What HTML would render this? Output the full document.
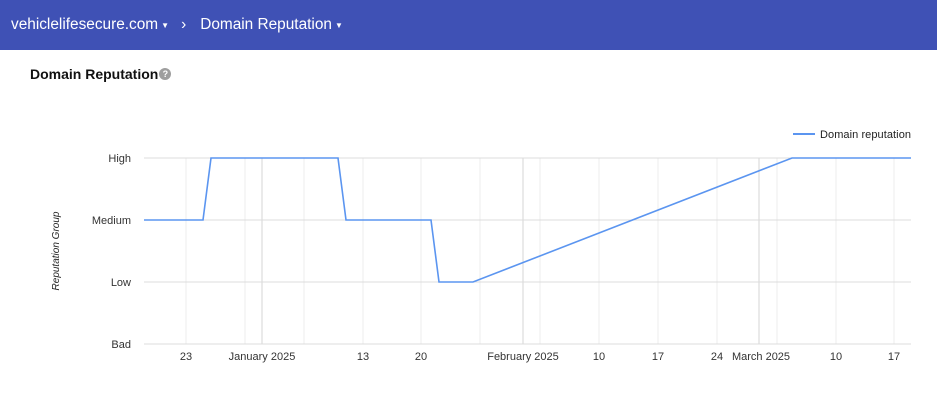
<!DOCTYPE html>
<html><head><meta charset="utf-8"><style>
body{margin:0;width:937px;height:403px;background:#fff;font-family:"Liberation Sans",Arial,sans-serif;overflow:hidden}
.bar{height:50px;background:#3f51b5;color:#fff;font-size:15.4px;display:flex;align-items:center;padding-left:11px}
.title{position:absolute;left:30px;top:66px;font-size:14px;font-weight:bold;color:#111}
.q{display:inline-block;width:12px;height:12px;border-radius:50%;background:#9e9e9e;color:#fff;font-size:9px;text-align:center;line-height:12px;vertical-align:2px;margin-left:1px}
</style></head><body>
<div class="bar"><span>vehiclelifesecure.com</span><span style="font-size:8px;margin-left:3px">▼</span><span style="margin-left:12px">›</span><span style="margin-left:14px">Domain Reputation</span><span style="font-size:8px;margin-left:3px">▼</span></div>
<div class="title">Domain Reputation<span class="q">?</span></div>
<svg width="937" height="403" style="position:absolute;left:0;top:0" font-family="Liberation Sans, Arial, sans-serif" font-size="11">
<g stroke="#ececec" stroke-width="1">
<line x1="186" y1="158" x2="186" y2="344"/><line x1="245" y1="158" x2="245" y2="344"/><line x1="304" y1="158" x2="304" y2="344"/><line x1="363" y1="158" x2="363" y2="344"/><line x1="421" y1="158" x2="421" y2="344"/><line x1="480" y1="158" x2="480" y2="344"/><line x1="540" y1="158" x2="540" y2="344"/><line x1="599" y1="158" x2="599" y2="344"/><line x1="658" y1="158" x2="658" y2="344"/><line x1="717" y1="158" x2="717" y2="344"/><line x1="777" y1="158" x2="777" y2="344"/><line x1="836" y1="158" x2="836" y2="344"/><line x1="894" y1="158" x2="894" y2="344"/>
</g>
<g stroke="#d6d6d6"><line x1="262" y1="158" x2="262" y2="344"/><line x1="523" y1="158" x2="523" y2="344"/><line x1="759" y1="158" x2="759" y2="344"/></g>
<g stroke="#dcdcdc"><line x1="144" y1="158" x2="911" y2="158"/><line x1="144" y1="220" x2="911" y2="220"/><line x1="144" y1="282" x2="911" y2="282"/><line x1="144" y1="344" x2="911" y2="344"/></g>
<polyline fill="none" stroke="#5b95f0" stroke-width="1.6" points="144,220 203,220 211,158 338,158 346,220 431,220 439,282 473,282 792,158 911,158"/>
<g fill="#333" text-anchor="end"><text x="131" y="162">High</text><text x="131" y="224">Medium</text><text x="131" y="286">Low</text><text x="131" y="348">Bad</text></g>
<g fill="#333" text-anchor="middle"><text x="186" y="360">23</text><text x="262" y="360">January 2025</text><text x="363" y="360">13</text><text x="421" y="360">20</text><text x="523" y="360">February 2025</text><text x="599" y="360">10</text><text x="658" y="360">17</text><text x="717" y="360">24</text><text x="761" y="360">March 2025</text><text x="836" y="360">10</text><text x="894" y="360">17</text></g>
<text transform="translate(59,251) rotate(-90)" text-anchor="middle" font-style="italic" font-size="10" fill="#222">Reputation Group</text>
<line x1="793" y1="134" x2="815" y2="134" stroke="#5b95f0" stroke-width="2"/>
<text x="820" y="138" fill="#222" font-size="11" textLength="91">Domain reputation</text>
</svg>
</body></html>
